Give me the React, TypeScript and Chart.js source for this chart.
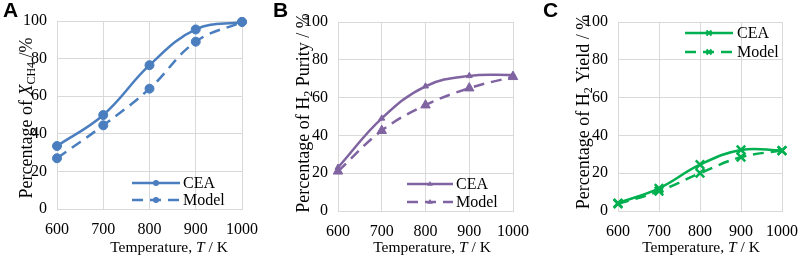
import React, { useEffect, useRef } from 'react';
import { Chart, registerables } from 'chart.js';

Chart.register(...registerables);

// ---------- data ----------
const TEMPS = ['600', '700', '800', '900', '1000'];
const Y_MIN = 0;
const Y_MAX = 100;
const Y_STEP = 20;

const A_CEA = [33.5, 50, 76.5, 95.5, 99.5];
const A_MODEL = [27, 44.5, 64, 89, 99.5];
const B_CEA = [23, 49, 66, 71.5, 72];
const B_MODEL = [21, 42.5, 56, 65, 71];
const C_CEA = [4.2, 12, 24.5, 32.3, 32];
const C_MODEL = [3.8, 10.5, 20, 28.5, 32];

const SERIES_NAMES = ['CEA', 'Model'];
const PANEL_LETTERS = ['A', 'B', 'C'];

type Seg = { t: string; italic?: boolean; sub?: boolean };

const SERIF = '"Liberation Serif", "Times New Roman", serif';
const GRID = '#d9d9d9';

const X_TITLE: Seg[] = [{ t: 'Temperature, ' }, { t: 'T', italic: true }, { t: ' / K' }];
const Y_TITLES: Seg[][] = [
  [{ t: 'Percentage of ' }, { t: 'X', italic: true }, { t: 'CH4', sub: true }, { t: ' /%' }],
  [{ t: 'Percentage of H' }, { t: '2', sub: true }, { t: ' Purity / %' }],
  [{ t: 'Percentage of H' }, { t: '2', sub: true }, { t: ' Yield / %' }],
];

type Marker = 'circle' | 'triangle' | 'crossRot';

interface Panel {
  left: number;
  width: number;
  plot: { l: number; r: number; t: number; b: number };
  color: string;
  cea: number[];
  model: number[];
  marker: Marker;
  ceaRadius: number;
  modelRadius: number;
  yTitle: Seg[];
  yTitlePos: [number, number];
  xTitlePos: [number, number];
  legend: { x1: number; x2: number; y1: number; y2: number; tx: number };
}

const H = 260;

const PANELS: Panel[] = [
  {
    left: 0, width: 270,
    plot: { l: 57, r: 242, t: 21, b: 209 },
    color: '#4a7ebf',
    cea: A_CEA, model: A_MODEL,
    marker: 'circle', ceaRadius: 4.5, modelRadius: 4.5,
    yTitle: Y_TITLES[0], yTitlePos: [27, 118], xTitlePos: [169, 248],
    legend: { x1: 132, x2: 180, y1: 183, y2: 200, tx: 183 },
  },
  {
    left: 270, width: 270,
    plot: { l: 68, r: 244, t: 22, b: 211 },
    color: '#8064a2',
    cea: B_CEA, model: B_MODEL,
    marker: 'triangle', ceaRadius: 3.5, modelRadius: 5.5,
    yTitle: Y_TITLES[1], yTitlePos: [34, 113], xTitlePos: [162, 248],
    legend: { x1: 137, x2: 183, y1: 184, y2: 202, tx: 186 },
  },
  {
    left: 540, width: 269,
    plot: { l: 78, r: 253, t: 22, b: 211 },
    color: '#00b050',
    cea: C_CEA, model: C_MODEL,
    marker: 'crossRot', ceaRadius: 6, modelRadius: 6,
    yTitle: Y_TITLES[2], yTitlePos: [44, 112], xTitlePos: [161, 248],
    legend: { x1: 145, x2: 193, y1: 33, y2: 52, tx: 197 },
  },
];

function fontFor(seg: Seg, size: number) {
  const s = seg.sub ? Math.round(size * 0.66) : size;
  return `${seg.italic ? 'italic ' : ''}${s}px ${SERIF}`;
}

function drawRich(ctx: CanvasRenderingContext2D, segs: Seg[], size: number, cx: number, cy: number, rotate: boolean) {
  ctx.save();
  ctx.translate(cx, cy);
  if (rotate) ctx.rotate(-Math.PI / 2);
  ctx.textBaseline = 'middle';
  ctx.textAlign = 'left';
  ctx.fillStyle = '#000';
  let total = 0;
  const widths = segs.map((s) => {
    ctx.font = fontFor(s, size);
    const w = ctx.measureText(s.t).width;
    total += w;
    return w;
  });
  let x = -total / 2;
  segs.forEach((s, i) => {
    ctx.font = fontFor(s, size);
    ctx.fillText(s.t, x, s.sub ? size * 0.28 : 0);
    x += widths[i];
  });
  ctx.restore();
}

function drawMarker(ctx: CanvasRenderingContext2D, m: Marker, x: number, y: number, r: number, color: string) {
  ctx.save();
  ctx.fillStyle = color;
  ctx.strokeStyle = color;
  ctx.setLineDash([]);
  if (m === 'circle') {
    ctx.beginPath();
    ctx.arc(x, y, r, 0, Math.PI * 2);
    ctx.fill();
  } else if (m === 'triangle') {
    ctx.beginPath();
    ctx.moveTo(x, y - r);
    ctx.lineTo(x + r * 0.95, y + r * 0.6);
    ctx.lineTo(x - r * 0.95, y + r * 0.6);
    ctx.closePath();
    ctx.fill();
  } else {
    ctx.lineWidth = 2;
    ctx.beginPath();
    ctx.moveTo(x - r, y - r);
    ctx.lineTo(x + r, y + r);
    ctx.moveTo(x + r, y - r);
    ctx.lineTo(x - r, y + r);
    ctx.stroke();
  }
  ctx.restore();
}

const DASH = [11, 7];

function PanelChart({ p, idx }: { p: Panel; idx: number }) {
  const ref = useRef<HTMLCanvasElement>(null);
  useEffect(() => {
    if (!ref.current) return;
    const decor = {
      id: 'decor' + idx,
      afterDraw(chart: Chart) {
        const ctx = chart.ctx;
        drawRich(ctx, p.yTitle, 18, p.yTitlePos[0], p.yTitlePos[1], true);
        drawRich(ctx, X_TITLE, 15.5, p.xTitlePos[0], p.xTitlePos[1], false);
        // legend
        const lg = p.legend;
        const rows = [
          { y: lg.y1, dash: [] as number[], name: SERIES_NAMES[0] },
          { y: lg.y2, dash: DASH, name: SERIES_NAMES[1] },
        ];
        rows.forEach((row) => {
          ctx.save();
          ctx.strokeStyle = p.color;
          ctx.lineWidth = 2.5;
          ctx.setLineDash(row.dash);
          ctx.beginPath();
          ctx.moveTo(lg.x1, row.y);
          ctx.lineTo(lg.x2, row.y);
          ctx.stroke();
          ctx.restore();
          drawMarker(ctx, p.marker, (lg.x1 + lg.x2) / 2, row.y, p.marker === 'crossRot' ? 2.5 : 3, p.color);
          ctx.save();
          ctx.fillStyle = '#000';
          ctx.font = `16px ${SERIF}`;
          ctx.textBaseline = 'middle';
          ctx.textAlign = 'left';
          ctx.fillText(row.name, lg.tx, row.y + 1);
          ctx.restore();
        });
      },
    };
    const tickFont = { family: SERIF, size: 16 };
    const chart = new Chart(ref.current, {
      type: 'line',
      data: {
        labels: TEMPS,
        datasets: [
          {
            label: SERIES_NAMES[0],
            data: p.cea,
            borderColor: p.color,
            backgroundColor: p.color,
            borderWidth: 2.5,
            tension: 0.4,
            pointStyle: p.marker,
            pointRadius: p.ceaRadius,
            pointBorderWidth: p.marker === 'crossRot' ? 2.5 : 1,
            pointBackgroundColor: p.color,
            pointBorderColor: p.color,
            clip: false as any,
          },
          {
            label: SERIES_NAMES[1],
            data: p.model,
            borderColor: p.color,
            backgroundColor: p.color,
            borderWidth: 2.5,
            borderDash: DASH,
            tension: 0.4,
            pointStyle: p.marker,
            pointRadius: p.modelRadius,
            pointBorderWidth: p.marker === 'crossRot' ? 2.5 : 1,
            pointBackgroundColor: p.color,
            pointBorderColor: p.color,
            clip: false as any,
          },
        ],
      },
      options: {
        responsive: false,
        animation: false,
        events: [],
        layout: { padding: { left: 0, right: p.width - p.plot.r, top: p.plot.t, bottom: 0 } },
        plugins: { legend: { display: false }, tooltip: { enabled: false } },
        scales: {
          x: {
            type: 'category',
            offset: false,
            grid: { color: GRID, drawTicks: false, lineWidth: 1 },
            border: { color: GRID, width: 1 },
            ticks: { font: tickFont, color: '#000', padding: 11, maxRotation: 0, autoSkip: false },
            afterFit: (s: any) => { s.height = H - p.plot.b; },
          },
          y: {
            min: Y_MIN,
            max: Y_MAX,
            grid: { color: GRID, drawTicks: false, lineWidth: 1 },
            border: { color: GRID, width: 1 },
            ticks: { font: tickFont, color: '#000', padding: 10, stepSize: Y_STEP },
            afterFit: (s: any) => { s.width = p.plot.l; },
          },
        },
      },
      plugins: [decor],
    });
    return () => chart.destroy();
  }, [p, idx]);

  return (
    <div style={{ position: 'absolute', left: p.left, top: 0, width: p.width, height: H }}>
      <canvas ref={ref} width={p.width} height={H} style={{ width: p.width, height: H, display: 'block' }} />
      <div
        style={{
          position: 'absolute',
          left: 3,
          top: -3,
          font: `bold 21px "Liberation Sans", Arial, sans-serif`,
          color: '#000',
          lineHeight: '26px',
        }}
      >
        {PANEL_LETTERS[idx]}
      </div>
    </div>
  );
}

export default function App() {
  return (
    <div style={{ position: 'fixed', left: 0, top: 0, width: 809, height: H, background: '#fff', overflow: 'hidden' }}>
      {PANELS.map((p, i) => (
        <PanelChart key={i} p={p} idx={i} />
      ))}
    </div>
  );
}
